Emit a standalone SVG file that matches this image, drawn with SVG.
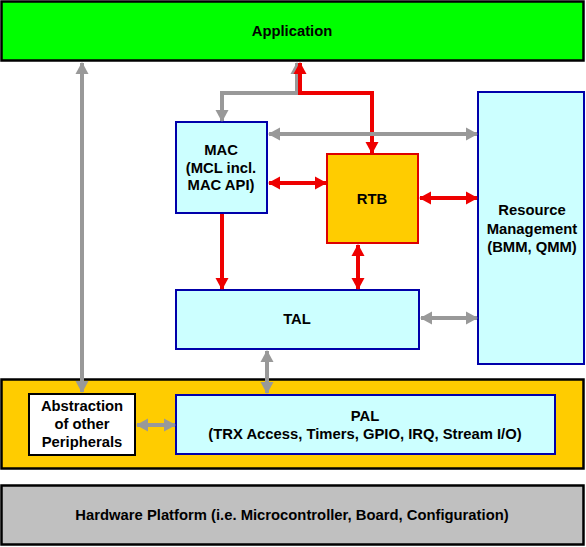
<svg xmlns="http://www.w3.org/2000/svg" width="586" height="547" viewBox="0 0 586 547">
<style>
text{font-family:"Liberation Sans",Arial,sans-serif;font-weight:bold;font-size:14.8px;fill:#000;text-anchor:middle}
.blk{stroke:#000;stroke-width:2.5}
.blue{fill:#ccffff;stroke:#0000aa;stroke-width:2}
.g{stroke:#999;stroke-width:4;fill:none}
.r{stroke:#ee0000;stroke-width:4;fill:none}
</style>
<defs>
<marker id="ga" markerUnits="userSpaceOnUse" markerWidth="14" markerHeight="14" refX="11" refY="7" orient="auto-start-reverse" viewBox="0 0 14 14"><path d="M0,0.5 L12,7 L0,13.5 Z" fill="#999"/></marker>
<marker id="ra" markerUnits="userSpaceOnUse" markerWidth="14" markerHeight="14" refX="11" refY="7" orient="auto-start-reverse" viewBox="0 0 14 14"><path d="M0,0.5 L12,7 L0,13.5 Z" fill="#ee0000"/></marker>
</defs>
<g id="application"><rect x="1.5" y="1.5" width="582" height="59" fill="#00ff00" class="blk"/><text x="292" y="36">Application</text></g>
<g id="pal-band"><rect x="1.5" y="379.5" width="582" height="89" fill="#ffcc00" class="blk"/></g>
<g id="hardware"><rect x="1.5" y="485.5" width="582" height="59" fill="#c0c0c0" class="blk"/><text x="292" y="520">Hardware Platform (i.e. Microcontroller, Board, Configuration)</text></g>
<g id="mac"><rect x="176" y="122" width="91" height="91" class="blue"/><text x="221" y="155">MAC</text><text x="221" y="173">(MCL incl.</text><text x="221" y="190">MAC API)</text></g>
<g id="rtb"><rect x="327" y="154" width="91" height="89" fill="#ffcc00" stroke="#dd0000" stroke-width="2"/><text x="372" y="204">RTB</text></g>
<g id="resource"><rect x="478" y="92" width="106" height="272" class="blue"/><text x="532" y="215">Resource</text><text x="532" y="234">Management</text><text x="532" y="252">(BMM, QMM)</text></g>
<g id="tal"><rect x="176" y="290" width="243" height="59" class="blue"/><text x="297" y="324">TAL</text></g>
<g id="abstraction"><rect x="29" y="394" width="106" height="61" fill="#fff" stroke="#000" stroke-width="2"/><text x="82" y="411">Abstraction</text><text x="82" y="429">of other</text><text x="82" y="447">Peripherals</text></g>
<g id="pal"><rect x="176" y="395" width="379" height="59" class="blue"/><text x="365" y="421">PAL</text><text x="365" y="439">(TRX Access, Timers, GPIO, IRQ, Stream I/O)</text></g>
<g id="connectors">
<path class="g" d="M82,63 V392" marker-start="url(#ga)" marker-end="url(#ga)"/>
<path class="g" d="M297,63 V93 H222 V121" marker-start="url(#ga)" marker-end="url(#ga)"/>
<path class="r" d="M300,63 V93 H372 V153" marker-start="url(#ra)" marker-end="url(#ra)"/>
<path class="g" d="M269,134 H477" marker-start="url(#ga)" marker-end="url(#ga)"/>
<path class="r" d="M269,183 H326" marker-start="url(#ra)" marker-end="url(#ra)"/>
<path class="r" d="M420,198 H477" marker-start="url(#ra)" marker-end="url(#ra)"/>
<path class="r" d="M222,214 V289" marker-end="url(#ra)"/>
<path class="r" d="M358,245 V289" marker-start="url(#ra)" marker-end="url(#ra)"/>
<path class="g" d="M421,318 H477" marker-start="url(#ga)" marker-end="url(#ga)"/>
<path class="g" d="M267,351 V393" marker-start="url(#ga)" marker-end="url(#ga)"/>
<path class="g" d="M137,425 H175" marker-start="url(#ga)" marker-end="url(#ga)"/>
</g>
</svg>
